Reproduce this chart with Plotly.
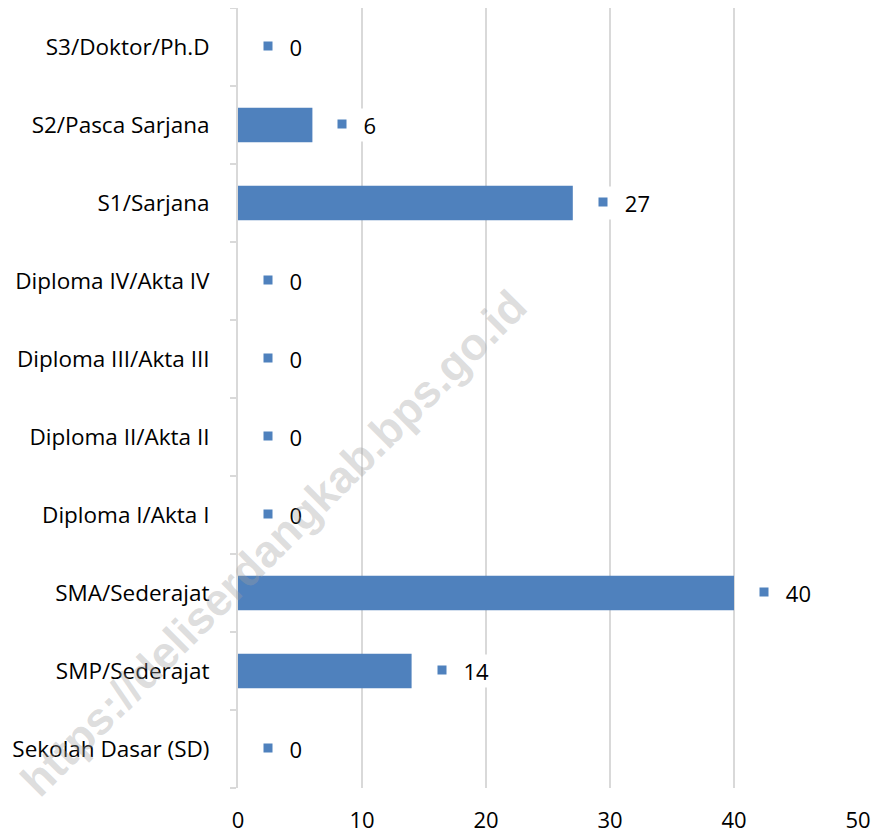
import plotly.graph_objects as go

categories = ["Sekolah Dasar (SD)", "SMP/Sederajat", "SMA/Sederajat", "Diploma I/Akta I",
              "Diploma II/Akta II", "Diploma III/Akta III", "Diploma IV/Akta IV",
              "S1/Sarjana", "S2/Pasca Sarjana", "S3/Doktor/Ph.D"]
values = [0, 14, 40, 0, 0, 0, 0, 27, 6, 0]
x_ticks = [0, 10, 20, 30, 40, 50]

BLUE = "#4F81BD"
FONT = "Open Sans"
# the page body adds an 8px offset, so the figure is sized to compensate
W, H = 872, 829
ML, MR, MT, MB = 230, 22, 0, 49

fig = go.Figure()
fig.add_trace(go.Bar(y=categories, x=values, orientation="h", marker=dict(color=BLUE, line=dict(width=0)),
                     hoverinfo="x+y"))

annotations = []
for c, v in zip(categories, values):
    annotations.append(dict(x=v, y=c, xref="x", yref="y", text=str(v), showarrow=False,
                            xanchor="left", yanchor="middle", xshift=21, yshift=0,
                            width=28 + 13 * len(str(v)), align="right", bgcolor="white",
                            font=dict(family=FONT, size=22, color="#000000"), borderpad=1))
    annotations.append(dict(x=v, y=c, xref="x", yref="y", text=" ", showarrow=False,
                            xanchor="center", yanchor="middle", xshift=30, yshift=1,
                            width=8, height=8, bgcolor=BLUE, borderpad=0,
                            font=dict(size=4)))
# watermark on top, semi-transparent
annotations.append(dict(x=(265 - ML) / (W - ML - MR), y=(H - MB - 535) / (H - MT - MB),
                        xref="paper", yref="paper", text="https://deliserdangkab.bps.go.id",
                        showarrow=False, textangle=-45, xanchor="center", yanchor="middle",
                        font=dict(family="Liberation Sans", size=45, color="rgba(160,160,160,0.36)",
                                  weight="bold")))

fig.update_layout(
    width=W, height=H,
    margin=dict(l=ML, r=MR, t=MT, b=MB, autoexpand=False),
    paper_bgcolor="white", plot_bgcolor="white",
    showlegend=False, bargap=0.56,
    font=dict(family=FONT, size=22, color="#000000"),
    annotations=annotations,
    xaxis=dict(range=[0, 50], tickvals=x_ticks, showgrid=True, gridcolor="#d9d9d9", gridwidth=2,
               zeroline=False, showline=False, ticks="", ticklabelstandoff=17, automargin=False,
               tickfont=dict(family=FONT, size=22, color="#000000")),
    yaxis=dict(categoryorder="array", categoryarray=categories, showgrid=False, zeroline=False,
               showline=True, linecolor="#d9d9d9", linewidth=2, ticks="outside", tickson="boundaries",
               ticklen=6, tickcolor="#d9d9d9", tickwidth=2, ticklabelstandoff=22, automargin=False,
               tickfont=dict(family=FONT, size=22.5, color="#000000")),
)

fig.write_html("out.html")
